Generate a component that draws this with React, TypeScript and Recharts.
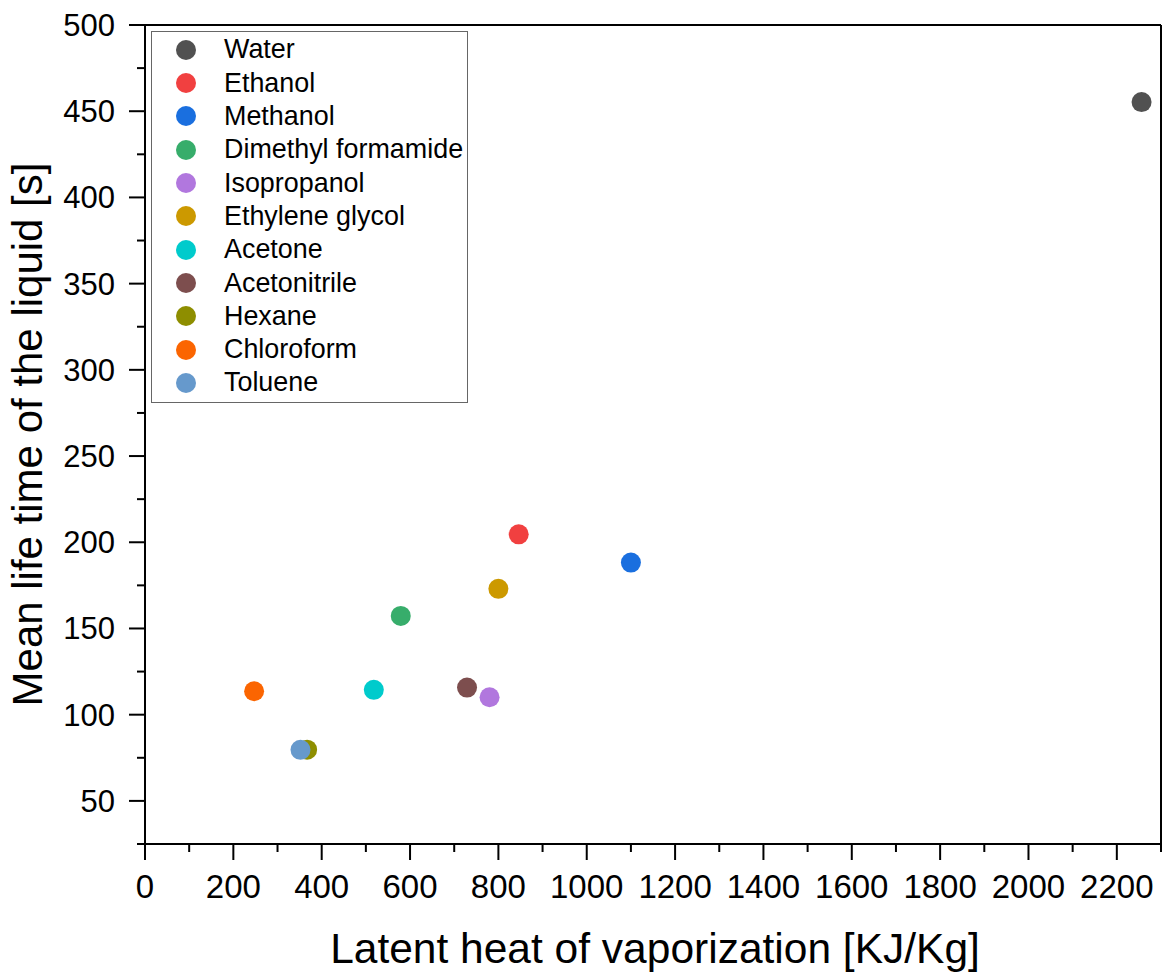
import React from 'react';
import { ScatterChart, Scatter, XAxis, YAxis, ReferenceLine, Legend, Label } from 'recharts';

const seriesNames = ['Water', 'Ethanol', 'Methanol', 'Dimethyl formamide', 'Isopropanol', 'Ethylene glycol', 'Acetone', 'Acetonitrile', 'Hexane', 'Chloroform', 'Toluene'];
const latentHeat = [2256, 846, 1100, 579, 780, 800, 518, 729, 367, 247, 352];
const lifeTime = [455.3, 204.6, 188.2, 157.3, 110.1, 173, 114.4, 115.7, 79.7, 113.6, 79.6];
const seriesColors = ['#515151', '#F14040', '#1A6FDF', '#37AD6B', '#B177DE', '#CC9900', '#00CBCC', '#7D4E4E', '#8E8E00', '#FB6501', '#6699CC'];

const xTicks = [0, 100, 200, 300, 400, 500, 600, 700, 800, 900, 1000, 1100, 1200, 1300, 1400, 1500, 1600, 1700, 1800, 1900, 2000, 2100, 2200, 2300];
const xMajorLabels = [0, 200, 400, 600, 800, 1000, 1200, 1400, 1600, 1800, 2000, 2200];
const yTicks = [25, 50, 75, 100, 125, 150, 175, 200, 225, 250, 275, 300, 325, 350, 375, 400, 425, 450, 475, 500];
const yMajorLabels = [50, 100, 150, 200, 250, 300, 350, 400, 450, 500];

const xTitle = 'Latent heat of vaporization [KJ/Kg]';
const yTitle = 'Mean life time of the liquid [s]';

const FONT = 'Liberation Sans, Arial, Helvetica, sans-serif';

const XTick = (props: any) => {
  const { x, y, payload } = props;
  const v = payload.value;
  const major = xMajorLabels.includes(v);
  return (
    <g>
      <line x1={x} x2={x} y1={y} y2={y + (major ? 16 : 8)} stroke="#000" strokeWidth={2} />
      {major && (
        <text x={x} y={y + 54} textAnchor="middle" fontSize={33} fontFamily={FONT} fill="#000">
          {v}
        </text>
      )}
    </g>
  );
};

const YTick = (props: any) => {
  const { x, y, payload } = props;
  const v = payload.value;
  const major = yMajorLabels.includes(v);
  return (
    <g>
      <line x1={x} x2={x - (major ? 16 : 8)} y1={y} y2={y} stroke="#000" strokeWidth={2} />
      {major && (
        <text x={x - 30} y={y + 11} textAnchor="end" fontSize={31} fontFamily={FONT} fill="#000">
          {v}
        </text>
      )}
    </g>
  );
};

const Dot = (props: any) => {
  const { cx, cy, fill } = props;
  return <circle cx={cx} cy={cy} r={10} fill={fill} />;
};

const renderLegend = () => (
  <div
    style={{
      boxSizing: 'border-box',
      width: 317,
      height: 372,
      border: '1.5px solid #666',
      background: '#fff',
      paddingTop: 1,
      fontFamily: FONT,
    }}
  >
    {seriesNames.map((name, i) => (
      <div key={name} style={{ height: 33.33, display: 'flex', alignItems: 'center' }}>
        <svg width={20} height={20} style={{ marginLeft: 23.5, flex: 'none' }}>
          <circle cx={10} cy={10} r={10} fill={seriesColors[i]} />
        </svg>
        <span style={{ marginLeft: 28.5, fontSize: 26.9, color: '#000', lineHeight: 1, whiteSpace: 'nowrap' }}>{name}</span>
      </div>
    ))}
  </div>
);

export default function App() {
  return (
    <div style={{ position: 'absolute', left: 0, top: 0, width: 1163, height: 972, background: '#fff' }}>
      <ScatterChart width={1163} height={972} margin={{ top: 25, right: 2, bottom: 0, left: 0 }}>
        <XAxis
          type="number"
          dataKey="x"
          domain={[0, 2300]}
          ticks={xTicks}
          interval={0}
          tickSize={0}
          tickMargin={0}
          tick={<XTick />}
          height={128}
          axisLine={{ stroke: '#000', strokeWidth: 2 }}
          allowDataOverflow
        >
          <Label
            content={(p: any) => {
              const vb = p.viewBox;
              return (
                <text x={vb.x + vb.width / 2 + 2} y={vb.y + 119} textAnchor="middle" fontSize={42.5} fontFamily={FONT} fill="#000">
                  {xTitle}
                </text>
              );
            }}
          />
        </XAxis>
        <YAxis
          type="number"
          dataKey="y"
          domain={[25, 500]}
          ticks={yTicks}
          interval={0}
          tickSize={0}
          tickMargin={0}
          tick={<YTick />}
          width={145}
          axisLine={{ stroke: '#000', strokeWidth: 2 }}
          allowDataOverflow
        >
          <Label
            content={(p: any) => {
              const vb = p.viewBox;
              const cx = 42;
              const cy = vb.y + vb.height / 2;
              return (
                <text x={cx} y={cy} transform={`rotate(-90, ${cx}, ${cy})`} textAnchor="middle" fontSize={42} fontFamily={FONT} fill="#000">
                  {yTitle}
                </text>
              );
            }}
          />
        </YAxis>
        <ReferenceLine y={500} stroke="#000" strokeWidth={2} />
        <ReferenceLine x={2300} stroke="#000" strokeWidth={2} />
        <Legend
          layout="vertical"
          align="center"
          verticalAlign="middle"
          content={renderLegend}
          wrapperStyle={{ left: 151, top: 31, width: 317, height: 372 }}
        />
        {seriesNames.map((name, i) => (
          <Scatter
            key={name}
            name={name}
            data={[{ x: latentHeat[i], y: lifeTime[i] }]}
            fill={seriesColors[i]}
            shape={<Dot />}
            isAnimationActive={false}
          />
        ))}
      </ScatterChart>
    </div>
  );
}
